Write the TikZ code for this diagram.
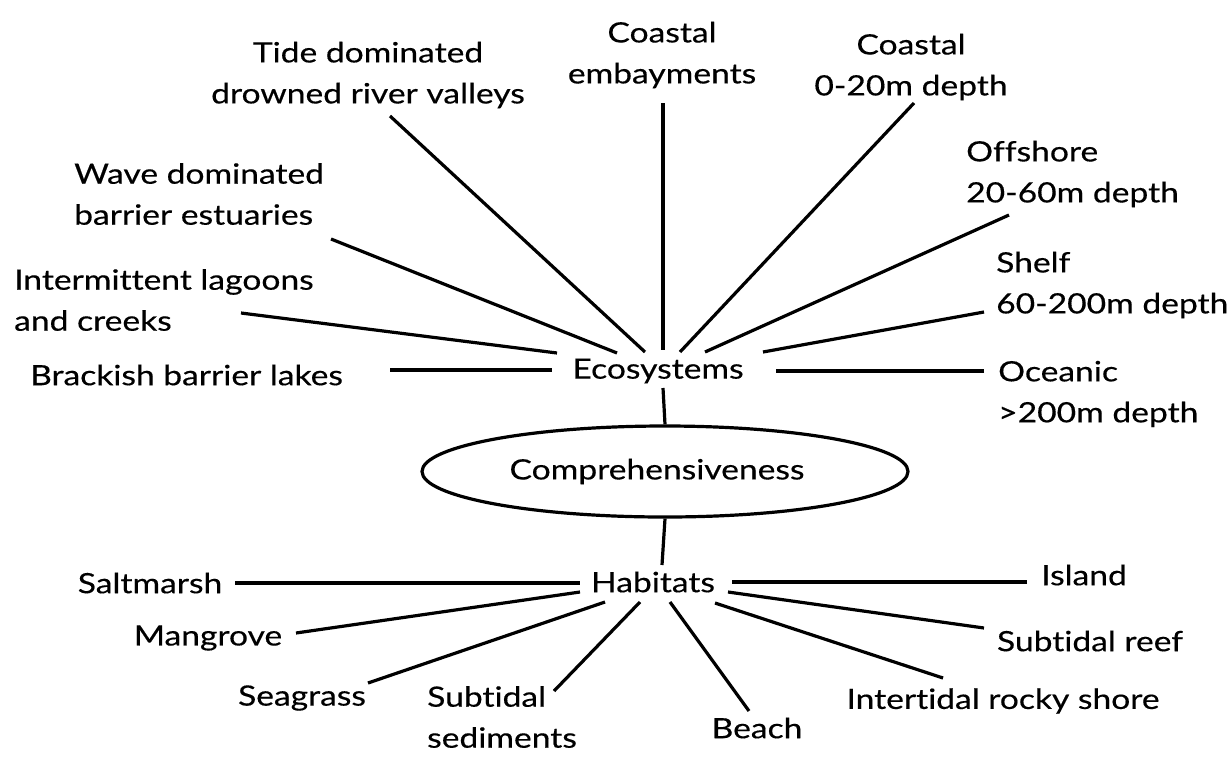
\documentclass[tikz,border=0pt]{standalone}
\usepackage{fontspec}
\setmainfont{Lato}[Ligatures=NoCommon,FakeStretch=1.2,FakeBold=0.4]
\usetikzlibrary{shapes.geometric}
\begin{document}
\begin{tikzpicture}[x=1pt,y=-1pt,
  lbl/.style={inner sep=0pt,font=\fontsize{28}{41}\selectfont},
  conn/.style={line width=3.2pt,black},
  hub/.style={ellipse,draw,line width=3.2pt,inner sep=0pt,minimum width=486pt,minimum height=91pt,font=\fontsize{28}{41}\selectfont}]
\useasboundingbox (0,0) rectangle (1228,756);
% labels
\node[lbl,align=center] (tide) at (368,75) {Tide dominated\\drowned river valleys};
\node[lbl,align=center] (emb) at (662,55) {Coastal\\embayments};
\node[lbl,align=center] (c020) at (911,67) {Coastal\\0-20m depth};
\node[lbl,align=left,anchor=west] (off) at (966,174) {Offshore\\20-60m depth};
\node[lbl,align=left,anchor=west] (shelf) at (996,285) {Shelf\\60-200m depth};
\node[lbl,align=left,anchor=west] (ocean) at (998,394) {Oceanic\\>200m depth};
\node[lbl,align=left,anchor=west] (wave) at (74,194) {Wave dominated\\barrier estuaries};
\node[lbl,align=left,anchor=west] (inter) at (14,300) {Intermittent lagoons\\and creeks};
\node[lbl,anchor=west] (brack) at (30,375) {Brackish barrier lakes};
\node[lbl] (eco) at (658,371) {Ecosystems};
\node[hub] (comp) at (665,471.5) {Comprehensiveness\hspace*{16pt}};
\node[lbl] (hab) at (653,582) {Habitats};
\node[lbl] (salt) at (150,583) {Saltmarsh};
\node[lbl] (island) at (1084,575) {Island};
\node[lbl] (mang) at (208,638) {Mangrove};
\node[lbl] (reef) at (1090,641) {Subtidal reef};
\node[lbl] (seag) at (302,698) {Seagrass};
\node[lbl,align=left,anchor=west] (subsed) at (427,717) {Subtidal\\sediments};
\node[lbl] (beach) at (757,728) {Beach};
\node[lbl] (intr) at (1003,701) {Intertidal rocky shore};
% connector ends
\coordinate (tideA) at (390,116);   \coordinate (tideB) at (645,352);
\coordinate (embA) at (663,103);    \coordinate (embB) at (663,350);
\coordinate (c020A) at (914,103);   \coordinate (c020B) at (680,352);
\coordinate (offA) at (1009,215);   \coordinate (offB) at (705,352);
\coordinate (shelfA) at (984,312);  \coordinate (shelfB) at (763,352);
\coordinate (oceanA) at (984,371);  \coordinate (oceanB) at (776,371);
\coordinate (brackA) at (390,370);  \coordinate (brackB) at (552,370);
\coordinate (interA) at (241,313);  \coordinate (interB) at (557,353);
\coordinate (waveA) at (331,239);   \coordinate (waveB) at (617,353);
\coordinate (ecoS) at (663,388);
\coordinate (habN) at (662,565);
\coordinate (saltA) at (235,583);   \coordinate (saltB) at (580,583);
\coordinate (mangA) at (296,633);   \coordinate (mangB) at (580,592);
\coordinate (seagA) at (368,683);   \coordinate (seagB) at (605,602);
\coordinate (subsedA) at (554,691); \coordinate (subsedB) at (640,602);
\coordinate (beachA) at (749,711);  \coordinate (beachB) at (670,602);
\coordinate (intrA) at (943,678);   \coordinate (intrB) at (715,603);
\coordinate (reefA) at (984,628);   \coordinate (reefB) at (728,592);
\coordinate (islandA) at (1027,582);\coordinate (islandB) at (732,582);
% connectors
\draw[conn] (tideA) -- (tideB);
\draw[conn] (embA) -- (embB);
\draw[conn] (c020A) -- (c020B);
\draw[conn] (offA) -- (offB);
\draw[conn] (shelfA) -- (shelfB);
\draw[conn] (oceanA) -- (oceanB);
\draw[conn] (brackA) -- (brackB);
\draw[conn] (interA) -- (interB);
\draw[conn] (waveA) -- (waveB);
\draw[conn] (ecoS) -- (comp.north);
\draw[conn] (comp.south) -- (habN);
\draw[conn] (saltA) -- (saltB);
\draw[conn] (mangA) -- (mangB);
\draw[conn] (seagA) -- (seagB);
\draw[conn] (subsedA) -- (subsedB);
\draw[conn] (beachA) -- (beachB);
\draw[conn] (intrA) -- (intrB);
\draw[conn] (reefA) -- (reefB);
\draw[conn] (islandA) -- (islandB);
\end{tikzpicture}
\end{document}
